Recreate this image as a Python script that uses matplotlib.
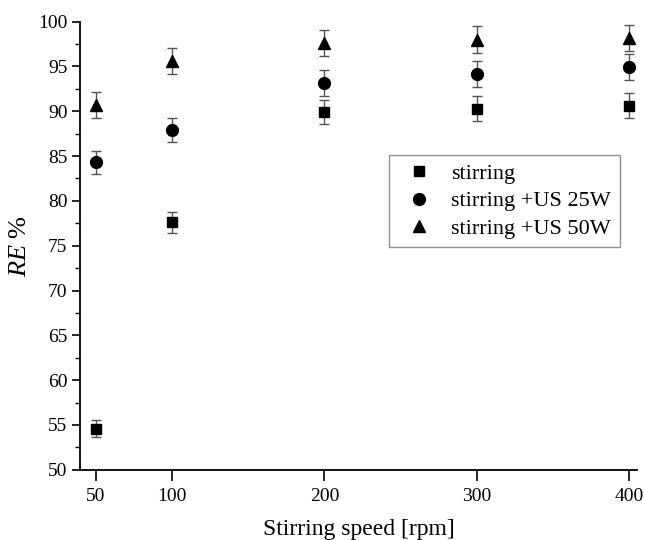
import numpy as np
import matplotlib
matplotlib.use('Agg')
from matplotlib import pyplot as plt
from matplotlib.ticker import MultipleLocator

plt.rcParams['font.family'] = 'Liberation Serif'
plt.rcParams['mathtext.fontset'] = 'custom'
plt.rcParams['mathtext.it'] = 'Liberation Serif:italic'
plt.rcParams['mathtext.rm'] = 'Liberation Serif'

speed = [50, 100, 200, 300, 400]

re_stir = [54.6, 77.6, 89.9, 90.3, 90.6]
err_stir = [0.9, 1.2, 1.35, 1.4, 1.4]

re_us25 = [84.3, 87.9, 93.2, 94.2, 94.9]
err_us25 = [1.3, 1.3, 1.45, 1.45, 1.45]

re_us50 = [90.7, 95.6, 97.6, 98.0, 98.2]
err_us50 = [1.4, 1.45, 1.45, 1.5, 1.45]

labels = ['stirring', 'stirring +US 25W', 'stirring +US 50W']

fig = plt.figure(figsize=(6.45, 5.4), dpi=100)
ax = fig.add_axes([0.124, 0.130, 0.864, 0.830])

series = [(re_stir, err_stir, 's', 7.5), (re_us25, err_us25, 'o', 8.5), (re_us50, err_us50, '^', 9)]
for (vals, errs, mk, ms), lab in zip(series, labels):
    ax.errorbar(speed, vals, yerr=errs, fmt=mk, color='black', markersize=ms,
                ecolor='#555555', elinewidth=1.0, capsize=3.5, capthick=1.0, label=lab)

ax.set_xlim(39.7, 405.2)
ax.set_ylim(50, 100)
ax.set_xticks(speed)
ax.yaxis.set_major_locator(MultipleLocator(5))
ax.yaxis.set_minor_locator(MultipleLocator(2.5))

for side in ['top', 'right']:
    ax.spines[side].set_visible(False)
for side in ['left', 'bottom']:
    ax.spines[side].set_linewidth(1.3)

ax.tick_params(axis='both', which='major', direction='out', length=6, width=1.2, labelsize=14)
ax.tick_params(axis='y', which='minor', direction='out', length=3.5, width=1.0)
ax.tick_params(axis='x', which='major', length=8, pad=5)
ax.tick_params(axis='y', which='major', pad=3)

ax.set_xlabel('Stirring speed [rpm]', fontsize=17)
ax.xaxis.set_label_coords(0.5, -0.11)
ax.set_ylabel('$RE$ %', fontsize=19)
ax.yaxis.set_label_coords(-0.087, 0.5)

handles, hl = ax.get_legend_handles_labels()
handles = [h[0] for h in handles]
leg = ax.legend(handles, hl, loc='upper left', bbox_to_anchor=(0.555, 0.703), fontsize=16,
                frameon=True, fancybox=False, edgecolor='#777777', borderpad=0.4,
                handletextpad=0.5, labelspacing=0.3, handlelength=1.9, borderaxespad=0)
leg.get_frame().set_linewidth(1.0)

fig.savefig('out.png', dpi=100)
